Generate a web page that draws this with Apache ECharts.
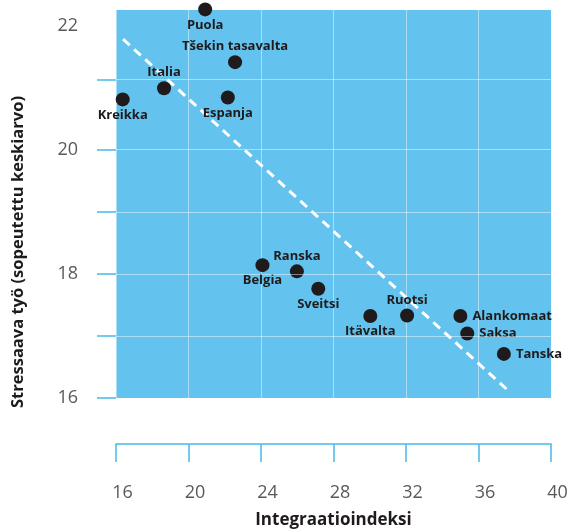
<!DOCTYPE html>
<html>
<head>
<meta charset="utf-8">
<script src="https://cdn.jsdelivr.net/npm/echarts@6/dist/echarts.min.js"></script>
<style>
html,body{margin:0;padding:0;background:#fff;}
#c{width:568px;height:531px;}
</style>
</head>
<body>
<div id="c"></div>
<script>
// ---- data ----
const countries = ['Puola','Tšekin tasavalta','Italia','Kreikka','Espanja','Ranska','Belgia','Sveitsi','Itävalta','Ruotsi','Alankomaat','Saksa','Tanska'];
const integration = [20.92, 22.57, 18.65, 16.37, 22.17, 25.98, 24.08, 27.16, 30.03, 32.06, 35.00, 35.38, 37.40];
const stress = [22.26, 21.41, 20.99, 20.81, 20.84, 18.04, 18.14, 17.76, 17.32, 17.33, 17.32, 17.04, 16.71];
const labelSide = ['bottom','top','top','bottom','bottom','top','bottom','bottom','bottom','top','right','right','right'];
const trendX = [16.39, 37.60];
const trendY = [21.78, 16.13];
const xTicks = [16, 20, 24, 28, 32, 36, 40];
const yTickLabels = [16, 18, 20, 22];
const yTicks = [16, 17, 18, 19, 20, 21.13];
const yGrid = [17, 18, 19, 20, 21.13];
const xTitle = 'Integraatioindeksi';
const yTitle = 'Stressaava työ (sopeutettu keskiarvo)';

const FONT = '"Open Sans", "Noto Sans", sans-serif';
const DARK = '#1f1b1c';
const AXISBLUE = '#45b9ea';

const points = countries.map((c, i) => ({
  name: c,
  value: [integration[i], stress[i]],
  label: {
    position: labelSide[i],
    distance: labelSide[i] === 'right' ? 5 : 2
  }
}));

const chart = echarts.init(document.getElementById('c'), null, {renderer: 'canvas'});
chart.setOption({
  animation: false,
  grid: {
    left: 116, right: 17, top: 10, bottom: 133,
    outerBoundsMode: 'none',
    containLabel: false,
    show: true, backgroundColor: '#63c3ee', borderWidth: 0
  },
  xAxis: {
    type: 'value', min: 16, max: 40, interval: 4,
    offset: 46,
    axisLine: {show: true, lineStyle: {color: AXISBLUE, width: 1.5}},
    axisTick: {show: true, length: 18, lineStyle: {color: AXISBLUE, width: 1.5}},
    axisLabel: {
      color: '#58595b', fontFamily: FONT, fontSize: 18, margin: 40,
      padding: [0, 0, 0, 13],
      customValues: xTicks
    },
    splitLine: {show: true, lineStyle: {color: 'rgba(255,255,255,0.45)', width: 1}},
    name: xTitle, nameLocation: 'middle', nameGap: 68,
    nameTextStyle: {color: DARK, fontFamily: FONT, fontSize: 17, fontWeight: 'bold'}
  },
  yAxis: {
    type: 'value', min: 16, max: 22.25,
    axisLine: {show: false},
    axisTick: {show: true, length: 19, customValues: yTicks, lineStyle: {color: AXISBLUE, width: 1.5}},
    axisLabel: {
      color: '#58595b', fontFamily: FONT, fontSize: 18, margin: 38,
      customValues: yTickLabels
    },
    splitLine: {show: false}
  },
  graphic: [{
    type: 'text', x: 18, y: 252, rotation: Math.PI / 2,
    style: {
      text: yTitle, fill: DARK,
      font: 'bold 16.5px ' + FONT,
      textAlign: 'center', textVerticalAlign: 'middle'
    }
  }],
  series: [
    {
      type: 'line',
      data: trendX.map((x, i) => [x, trendY[i]]),
      symbol: 'none',
      silent: true,
      z: 2,
      lineStyle: {color: '#ffffff', width: 3, type: [9, 6]},
      markLine: {
        silent: true, symbol: 'none', label: {show: false},
        lineStyle: {color: 'rgba(255,255,255,0.45)', width: 1, type: 'solid'},
        data: yGrid.map(v => ({yAxis: v}))
      }
    },
    {
      type: 'scatter',
      data: points,
      symbolSize: 14,
      clip: false,
      z: 3,
      itemStyle: {color: DARK, opacity: 1},
      label: {
        show: true,
        formatter: p => p.name,
        color: DARK, fontFamily: FONT, fontSize: 13, fontWeight: 'bold'
      }
    }
  ]
});
</script>
</body>
</html>
